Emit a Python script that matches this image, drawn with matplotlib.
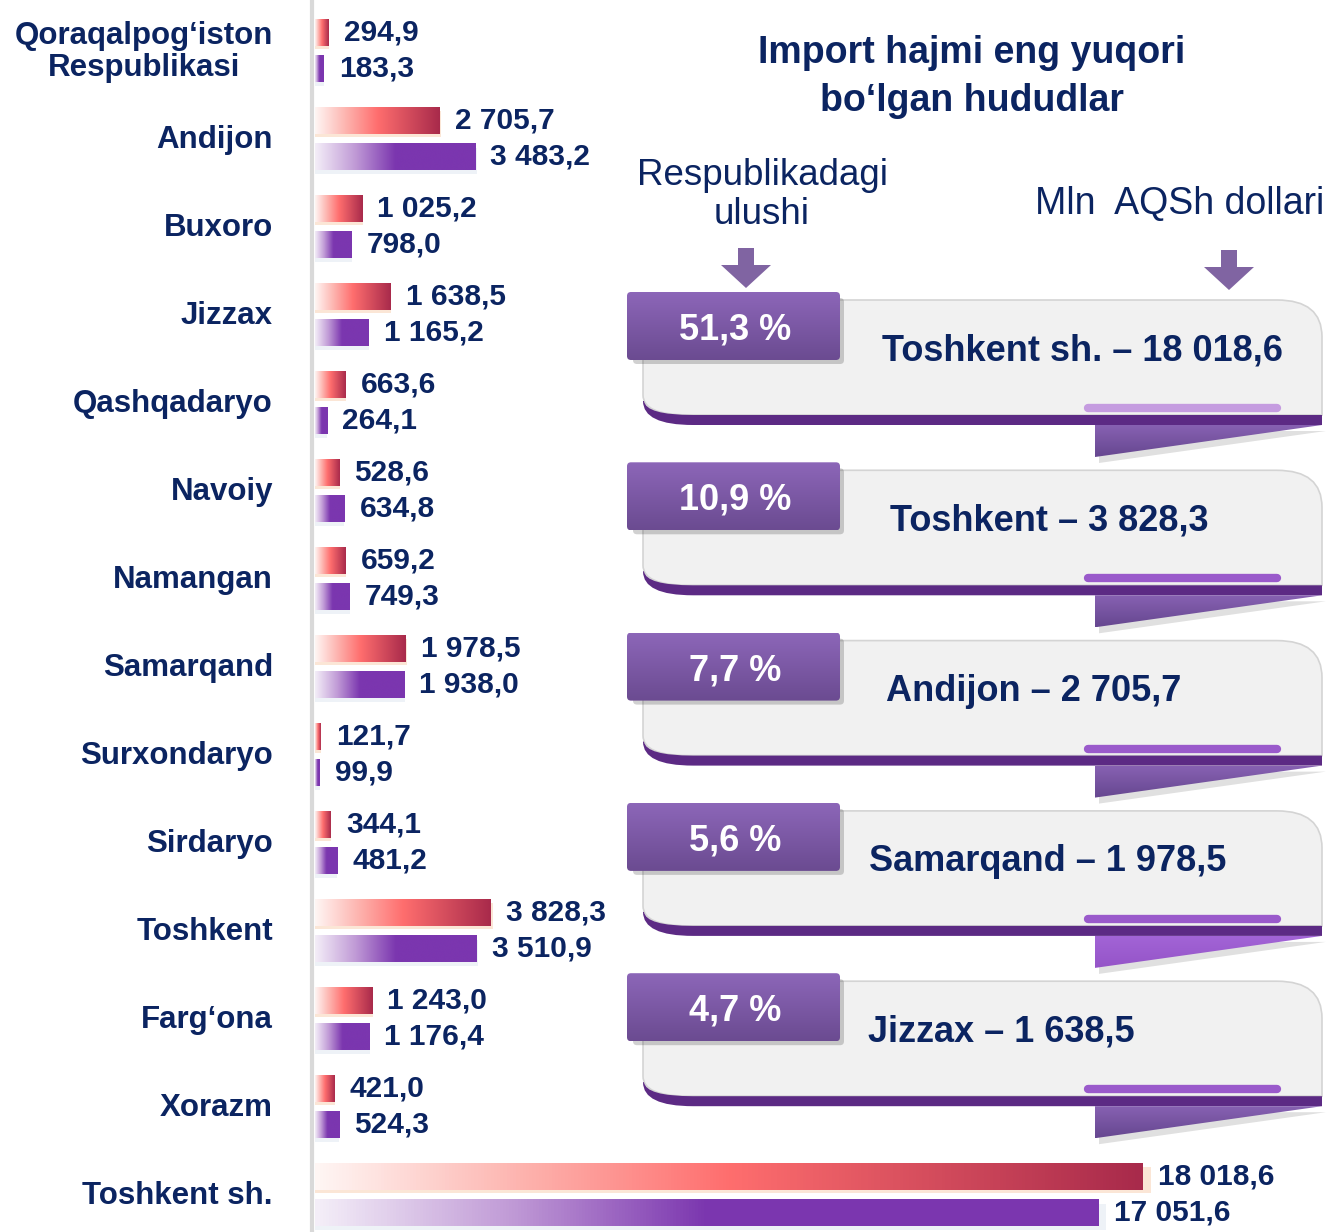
import matplotlib
matplotlib.use('Agg')
import matplotlib.pyplot as plt
import numpy as np
from matplotlib.colors import LinearSegmentedColormap
from matplotlib.patches import Polygon, PathPatch, FancyBboxPatch, Rectangle
from matplotlib.path import Path

# import by region, mln USD (red = import, purple = second series)
regions = ['Qoraqalpog‘iston\nRespublikasi', 'Andijon', 'Buxoro', 'Jizzax', 'Qashqadaryo',
           'Navoiy', 'Namangan', 'Samarqand', 'Surxondaryo', 'Sirdaryo', 'Toshkent',
           'Farg‘ona', 'Xorazm', 'Toshkent sh.']
import_now = [294.9, 2705.7, 1025.2, 1638.5, 663.6, 528.6, 659.2, 1978.5, 121.7, 344.1,
              3828.3, 1243.0, 421.0, 18018.6]
import_prev = [183.3, 3483.2, 798.0, 1165.2, 264.1, 634.8, 749.3, 1938.0, 99.9, 481.2,
               3510.9, 1176.4, 524.3, 17051.6]

# top regions and their share of the republic total, %
top_shares = [51.3, 10.9, 7.7, 5.6, 4.7]

title = 'Import hajmi eng yuqori\nbo‘lgan hududlar'
share_caption = 'Respublikadagi\nulushi'
unit_caption = 'Mln  AQSh dollari'

NAVY = '#0B2461'
BOLD = ['Liberation Sans', 'DejaVu Sans']
NARROW = ['Liberation Sans Narrow', 'Liberation Sans', 'DejaVu Sans']


def fmt(v):
    return f'{v:,.1f}'.replace(',', ' ').replace('.', ',')


red_cmap = LinearSegmentedColormap.from_list(
    'red', [(0, '#FFF6F4'), (0.25, '#FDB3AE'), (0.5, '#FF6E6E'), (1, '#A82A4B')])
purple_cmap = LinearSegmentedColormap.from_list(
    'purple', [(0, '#F4EEF8'), (0.25, '#C09AD6'), (0.5, '#7B36AF'), (1, '#7B36AF')])
tab_cmap = LinearSegmentedColormap.from_list('tab', ['#8C66B8', '#6B4B91'])
fold_cmap = LinearSegmentedColormap.from_list('fold', ['#8761B2', '#664790'])
fold_cmap2 = LinearSegmentedColormap.from_list('fold2', ['#A264D6', '#9554C8'])

W, H = 1327, 1232
fig = plt.figure(figsize=(W / 100, H / 100), dpi=100)

# pixel-space overlay for the decorations
ov = fig.add_axes([0, 0, 1, 1])
ov.set_xlim(0, W)
ov.set_ylim(H, 0)
ov.axis('off')

# bar axes: value 0 at x=315 px, 18 018,6 at x=1143 px; rows every 88 px
x0_px = 315
px_per_unit = (1143 - x0_px) / 18018.6
ax = fig.add_axes([x0_px / W, 0, 1 - x0_px / W, 1])
ax.axis('off')
ax.patch.set_alpha(0)

ov.plot([311.5, 311.5], [0, H], color='#D9D9D9', lw=3, solid_capstyle='butt')

grad = np.linspace(0, 1, 256).reshape(1, -1)
bh = 0.30
for i, (a, b) in enumerate(zip(import_now, import_prev)):
    yr, yp = i - 0.22, i + 0.19
    # soft shadows under the bars
    ax.add_patch(Rectangle((0, yr - bh / 2 + 0.04), a * 1.01, bh, color='#FBE6D6', lw=0, zorder=1))
    ax.add_patch(Rectangle((0, yp - bh / 2 + 0.05), b * 1.01, bh, color='#EEF2F7', lw=0, zorder=1))
    ax.imshow(grad, cmap=red_cmap, aspect='auto', interpolation='bicubic',
              extent=(0, a, yr + bh / 2, yr - bh / 2), zorder=2)
    ax.imshow(grad, cmap=purple_cmap, aspect='auto', interpolation='bicubic',
              extent=(0, b, yp + bh / 2, yp - bh / 2), zorder=2)
    ax.annotate(fmt(a), (a, yr), xytext=(11, 0), textcoords='offset points', va='center',
                ha='left', fontsize=21.5, fontweight='bold', color=NAVY, family=BOLD,
                annotation_clip=False)
    ax.annotate(fmt(b), (b, yp), xytext=(11, 0), textcoords='offset points', va='center',
                ha='left', fontsize=21.5, fontweight='bold', color=NAVY, family=BOLD,
                annotation_clip=False)
    ax.text(-42 / px_per_unit, i, regions[i], ha='right', va='center', fontsize=22.5,
            fontweight='bold', color=NAVY, family=BOLD, linespacing=1.1, multialignment='center')
ax.set_ylim((H - 52) / 88, -52 / 88)
ax.set_xlim(0, (W - x0_px) / px_per_unit)

# headings
ov.text(972, 77, title, ha='center', va='center', fontsize=27, fontweight='bold',
        color=NAVY, family=NARROW, linespacing=1.4)
ov.text(762, 195, share_caption, ha='center', va='center', fontsize=26.5,
        color=NAVY, family=NARROW, linespacing=1.15)
ov.text(1180, 204, unit_caption, ha='center', va='center', fontsize=27,
        color=NAVY, family=NARROW)

for cx, ytop in [(746, 248), (1229, 250)]:
    ov.add_patch(Polygon([(cx - 8, ytop), (cx + 8, ytop), (cx + 8, ytop + 17), (cx + 25, ytop + 17),
                          (cx, ytop + 40), (cx - 25, ytop + 17), (cx - 8, ytop + 17)],
                         closed=True, color='#8064A2', lw=0))

# cards for the top five regions
order = np.argsort(import_now)[::-1][:5]
text_x = [882, 890, 886, 869, 868]
for k, idx in enumerate(order):
    t = 292 + 170.3 * k
    L, R = 643, 1322
    yb = t + 123
    # grey body with rounded top-right corner
    body = Path([(L, t + 8), (R - 45, t + 8), (R, t + 8), (R, t + 45), (R, yb),
                 (L + 45, yb), (L, yb), (L, yb - 20), (L, t + 8)],
                [Path.MOVETO, Path.LINETO, Path.CURVE3, Path.CURVE3, Path.LINETO,
                 Path.LINETO, Path.CURVE3, Path.CURVE3, Path.CLOSEPOLY])
    ov.add_patch(PathPatch(body, facecolor='#F1F1F1', edgecolor='#D4D4D4', lw=1.2, zorder=2))
    # purple band with curled left end
    band = Path([(L, yb - 14), (L, yb + 10), (L + 50, yb + 10), (R, yb + 10), (R, yb),
                 (L + 50, yb), (L + 3, yb), (L + 1, yb - 14), (L, yb - 14)],
                [Path.MOVETO, Path.CURVE3, Path.CURVE3, Path.LINETO, Path.LINETO,
                 Path.LINETO, Path.CURVE3, Path.CURVE3, Path.CLOSEPOLY])
    ov.add_patch(PathPatch(band, facecolor='#5C2A84', edgecolor='none', zorder=3))
    # fold under the band
    fold_pts = [(1095, yb + 10), (R, yb + 10), (1095, yb + 42)]
    ov.add_patch(Polygon([(x + 4, y + 6) for x, y in fold_pts], closed=True,
                         color='#000000', alpha=0.12, lw=0, zorder=2))
    fold = Polygon(fold_pts, closed=True, facecolor='none', edgecolor='none', zorder=3)
    ov.add_patch(fold)
    im = ov.imshow(np.linspace(0, 1, 64).reshape(-1, 1), cmap=fold_cmap2 if k == 3 else fold_cmap,
                   aspect='auto', extent=(1095, R, yb + 42, yb + 10), zorder=3)
    im.set_clip_path(fold)
    # accent line
    ov.plot([1088, 1277], [yb - 7, yb - 7], color='#C59CE0' if k == 0 else '#9A5ACB',
            lw=6, solid_capstyle='round', zorder=4)
    # share tab
    ov.add_patch(FancyBboxPatch((633, t + 6), 211, 66, boxstyle='round,pad=0,rounding_size=4',
                                facecolor='#000000', alpha=0.18, lw=0, zorder=4))
    tab = FancyBboxPatch((627, t), 213, 68, boxstyle='round,pad=0,rounding_size=4',
                         facecolor='none', edgecolor='none', zorder=5)
    ov.add_patch(tab)
    im = ov.imshow(np.linspace(0, 1, 64).reshape(-1, 1), cmap=tab_cmap, aspect='auto',
                   extent=(627, 840, t + 68, t), zorder=5)
    im.set_clip_path(tab)
    ov.text(735, t + 38, f'{fmt(top_shares[k])} %', ha='center', va='center', fontsize=26,
            fontweight='bold', color='white', family=NARROW, zorder=6)
    name = regions[idx]
    ov.text(text_x[k], t + 59, f'{name} – {fmt(import_now[idx])}', ha='left', va='center',
            fontsize=26, fontweight='bold', color=NAVY, family=NARROW, zorder=6)

ov.set_xlim(0, W)
ov.set_ylim(H, 0)
fig.savefig('out.png', dpi=100)
